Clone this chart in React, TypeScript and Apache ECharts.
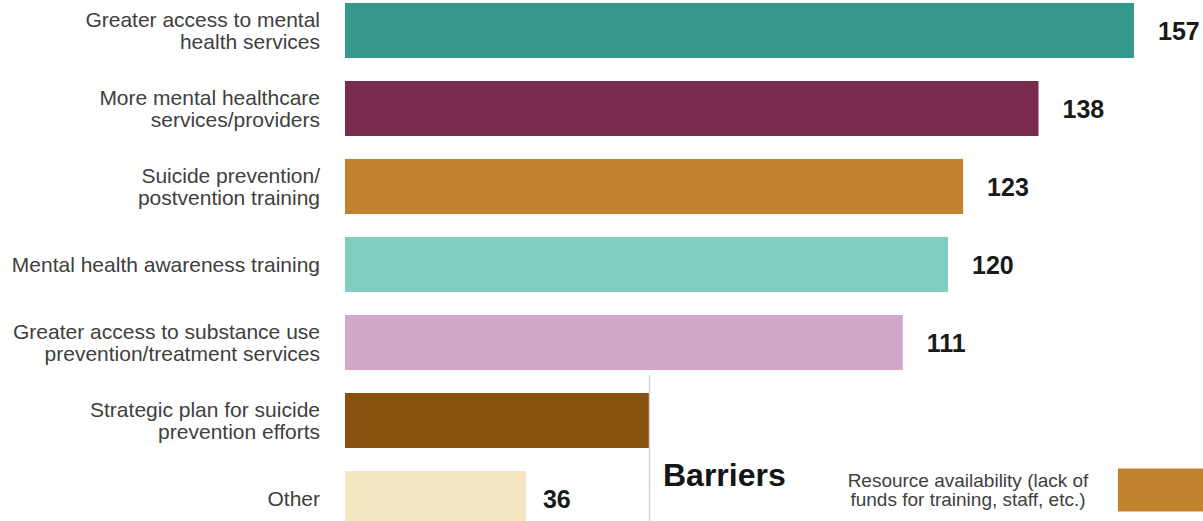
import React, { useEffect, useRef } from "react";
import * as echarts from "echarts";

const categories = [
  "Greater access to mental\nhealth services",
  "More mental healthcare\nservices/providers",
  "Suicide prevention/\npostvention training",
  "Mental health awareness training",
  "Greater access to substance use\nprevention/treatment services",
  "Strategic plan for suicide\nprevention efforts",
  "Other",
];
const values = [157, 138, 123, 120, 111, 85, 36];
const barColors = ["#36978C", "#7A2A4D", "#C1812F", "#80CDC1", "#D3A7CA", "#8A500E", "#F5E6C4"];

const barrierCategories = ["Resource availability (lack of\nfunds for training, staff, etc.)"];
const barrierValues = [60];
const barrierColors = ["#C1812F"];

const FONT = "'Liberation Sans', Arial, sans-serif";
const OFF = 20; // the chart canvas starts 20px above the visible frame

export default function App() {
  const ref = useRef<HTMLDivElement>(null);
  useEffect(() => {
    document.body.style.margin = "0";
    const chart = echarts.init(ref.current!, undefined, { renderer: "svg" });
    chart.setOption({
      animation: false,
      backgroundColor: "#ffffff",
      grid: [
        { left: 345, top: OFF - 8.5, width: 854.3, height: 546 },
        { left: 1118, top: OFF + 450, width: 500, height: 80 },
      ],
      xAxis: [
        { type: "value", gridIndex: 0, min: 0, max: 170, show: false },
        { type: "value", gridIndex: 1, min: 0, max: 100, show: false },
      ],
      yAxis: [
        {
          type: "category",
          gridIndex: 0,
          inverse: true,
          data: categories,
          axisLine: { show: false },
          axisTick: { show: false },
          splitLine: { show: false },
          axisLabel: {
            margin: 25,
            fontSize: 21,
            lineHeight: 22.5,
            color: "#404040",
            fontFamily: FONT,
          },
        },
        {
          type: "category",
          gridIndex: 1,
          inverse: true,
          data: barrierCategories,
          z: 200,
          axisLine: { show: false },
          axisTick: { show: false },
          splitLine: { show: false },
          axisLabel: {
            margin: 150,
            align: "center",
            fontSize: 19,
            lineHeight: 19,
            color: "#404040",
            fontFamily: FONT,
          },
        },
      ],
      series: [
        {
          type: "bar",
          xAxisIndex: 0,
          yAxisIndex: 0,
          barWidth: 55,
          data: values.map((v, i) => ({
            value: v,
            itemStyle: { color: barColors[i] },
            label:
              i === 5
                ? { show: false }
                : i === 6
                ? { distance: 17 }
                : {},
          })),
          label: {
            show: true,
            position: "right",
            distance: 24,
            fontSize: 25,
            fontWeight: "bold",
            fontFamily: FONT,
            color: "#1a1a1a",
          },
        },
        {
          type: "bar",
          xAxisIndex: 1,
          yAxisIndex: 1,
          barWidth: 43,
          z: 200,
          data: barrierValues.map((v, i) => ({ value: v, itemStyle: { color: barrierColors[i] } })),
        },
      ],
      graphic: [
        {
          type: "rect",
          z: 100,
          shape: { x: 650, y: OFF + 375, width: 900, height: 200 },
          style: { fill: "#ffffff" },
        },
        {
          type: "line",
          z: 101,
          shape: { x1: 649.5, y1: OFF + 375, x2: 649.5, y2: OFF + 560 },
          style: { stroke: "#d4d4d4", lineWidth: 1.5 },
        },
        {
          type: "text",
          z: 101,
          x: 663,
          y: OFF + 475,
          style: {
            text: "Barriers",
            fontSize: 32,
            fontWeight: "bold",
            fontFamily: FONT,
            fill: "#141414",
            verticalAlign: "middle",
            align: "left",
          },
        },
      ],
    });
    return () => chart.dispose();
  }, []);
  return (
    <div
      style={{
        position: "fixed",
        left: 0,
        top: 0,
        width: 1203,
        height: 521,
        overflow: "hidden",
        background: "#fff",
      }}
    >
      <div
        ref={ref}
        style={{ position: "absolute", left: 0, top: -OFF, width: 1600, height: 521 + 2 * OFF }}
      />
    </div>
  );
}
